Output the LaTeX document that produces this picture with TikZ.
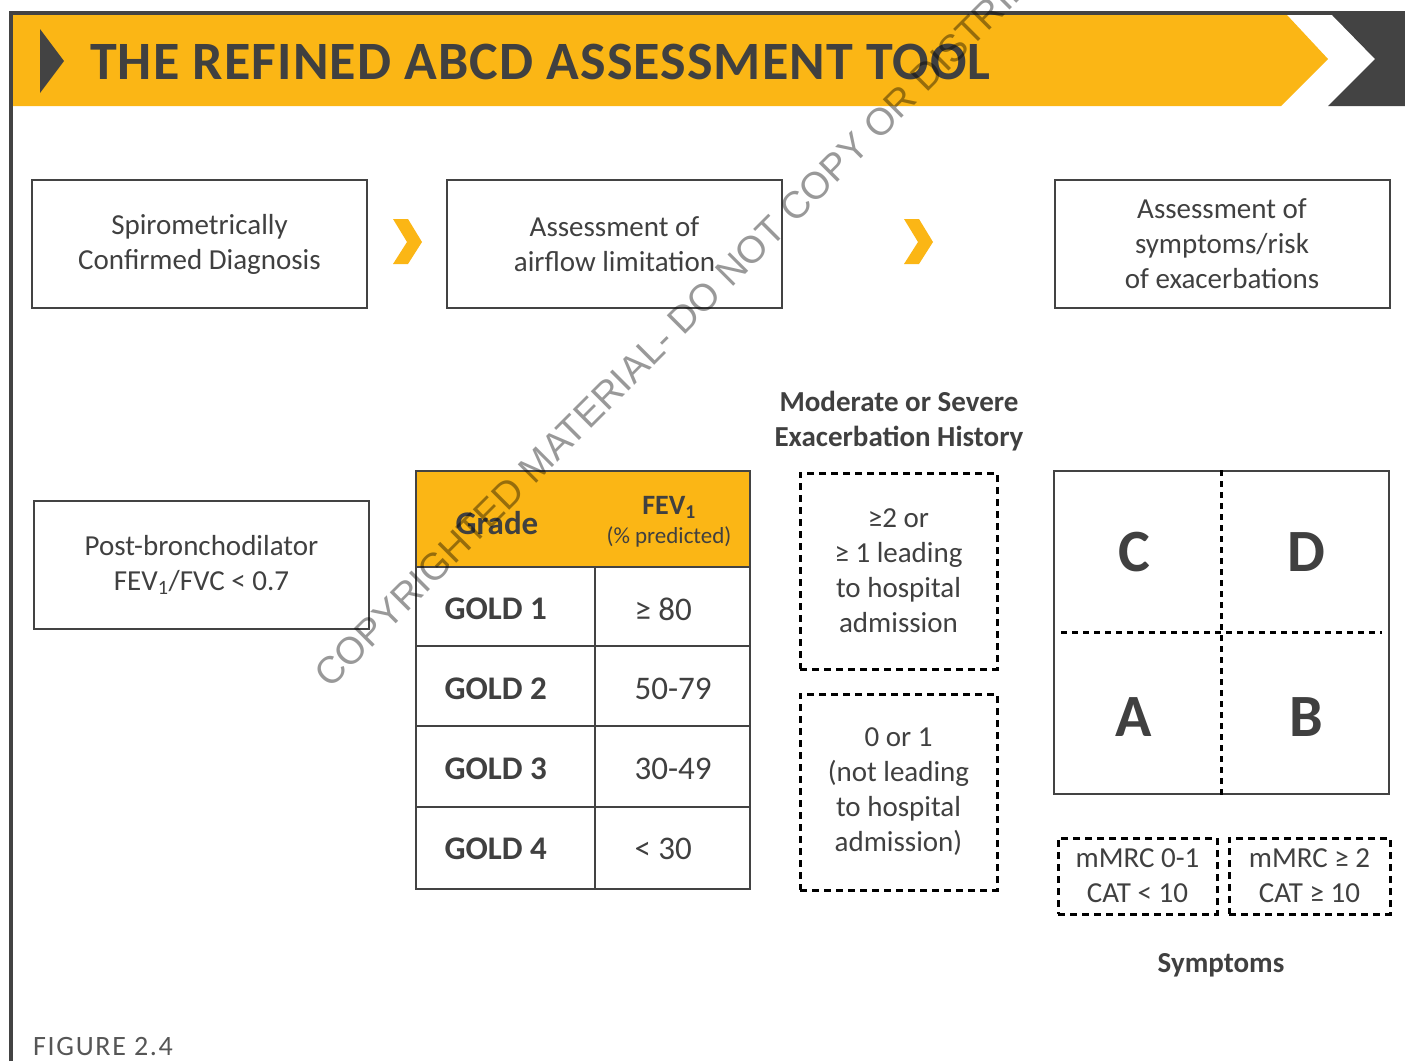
\documentclass[tikz,border=0pt]{standalone}
\usepackage{fontspec}
\setmainfont{Carlito}
\newfontfamily\spacedfont[LetterSpace=6]{Carlito}
\newfontfamily\titlefont[LetterSpace=2]{Carlito}
\newfontfamily\wmfont{Liberation Sans}
\definecolor{gold}{HTML}{FBB615}
\definecolor{framegray}{HTML}{434343}
\definecolor{textgray}{HTML}{404040}

\tikzset{
  box/.style={draw=framegray, line width=2pt, minimum width=335pt, minimum height=128pt,
    align=center, text=textgray, font=\fontsize{29}{35}\selectfont},
  dotbox/.style={draw=black, line width=3pt, dash pattern=on 7pt off 5pt,
    align=center, text=textgray, font=\fontsize{29}{35}\selectfont},
  dotline/.style={black, line width=3pt, dash pattern=on 6pt off 5pt},
  heading/.style={align=center, text=textgray, font=\fontsize{29}{35}\selectfont\bfseries},
  gradetxt/.style={anchor=west, text=textgray, font=\fontsize{33}{35}\selectfont\bfseries},
  valtxt/.style={anchor=west, text=textgray, font=\fontsize{33}{35}\selectfont},
  letter/.style={text=textgray, font=\fontsize{60}{60}\selectfont\bfseries},
  chevron/.pic={\fill[gold] (0,0) -- (15,0) -- (29,23) -- (15,45) -- (0,45) -- (14,23) -- cycle;}
}

\begin{document}
\begin{tikzpicture}[x=1pt, y=-1pt]
  \useasboundingbox (0,0) rectangle (1405,1061);

  % title band
  \fill[gold] (12,15) -- (1287,15) -- (1328,59) -- (1281,106) -- (12,106) -- cycle;
  \fill[framegray] (1332,15) -- (1405,15) -- (1405,106) -- (1328,106) -- (1375,59) -- cycle;
  \draw[framegray, line width=4pt] (10.5,1061) -- (10.5,13) -- (1405,13);
  \fill[framegray] (40,29) -- (64,61) -- (40,93) -- cycle;
  \node[anchor=base west, text=textgray, inner sep=0pt,
    font=\titlefont\fontsize{54}{54}\selectfont\bfseries] (title) at (90,79)
    {THE REFINED ABCD ASSESSMENT TOOL};

  % top row
  \node[box] (spiro) at (199.5,244) {Spirometrically\\Confirmed Diagnosis};
  \node[box] (airflow) at (614.5,244) {Assessment of\\airflow limitation};
  \node[box] (symrisk) at (1222,244) {Assessment of\\symptoms/risk\\of exacerbations};
  \pic at (393,219) {chevron};
  \pic at (904,219) {chevron};

  \node[box] (postbd) at (201.5,565) {Post-bronchodilator\\FEV\textsubscript{1}/FVC < 0.7};

  % grade table
  \fill[gold] (416,471) rectangle (750,567);
  \draw[framegray, line width=2pt] (416,471) rectangle (750,889);
  \foreach \y in {567,646,726,807} \draw[framegray, line width=2pt] (416,\y) -- (750,\y);
  \draw[framegray, line width=2pt] (595,567) -- (595,889);
  \node[text=textgray, font=\fontsize{33}{35}\selectfont\bfseries] (grade) at (497,523) {Grade};
  \node[text=textgray, align=center, inner sep=0pt] (fevhead) at (669,522)
    {{\fontsize{28}{30}\selectfont\bfseries FEV\textsubscript{1}}\\[7pt]{\fontsize{23}{28}\selectfont (\% predicted)}};
  \foreach \val/\y [count=\i] in {{≥ 80}/609, {50-79}/689, {30-49}/769, {< 30}/849}{
    \node[gradetxt] (gold\i) at (441,\y) {GOLD \i};
    \node[valtxt] (fev\i) at (631,\y) {\val};
  }

  % exacerbation history
  \node[heading] (exachead) at (899,421) {Moderate or Severe\\Exacerbation History};
  \node[dotbox, minimum width=197pt, minimum height=196pt] (hiexac) at (898.5,571)
    {≥2 or\\≥ 1 leading\\to hospital\\admission};
  \node[dotbox, minimum width=197pt, minimum height=196pt] (loexac) at (898.5,792)
    {0 or 1\\(not leading\\to hospital\\admission)};

  % ABCD grid
  \node[draw=framegray, line width=2pt, minimum width=335pt, minimum height=323pt] (grid) at (1221.5,632.5) {};
  \draw[dotline] (grid.north) -- (grid.south);
  \draw[dotline] ([xshift=8pt]grid.west) -- ([xshift=-8pt]grid.east);
  \node[letter] (qC) at (1134,552) {C};
  \node[letter] (qD) at (1306,552) {D};
  \node[letter] (qA) at (1134,717) {A};
  \node[letter] (qB) at (1306,717) {B};

  \node[dotbox, minimum width=159pt, minimum height=76pt] (losym) at (1137.5,876) {mMRC 0-1\\CAT < 10};
  \node[dotbox, minimum width=161pt, minimum height=76pt] (hisym) at (1309.5,876) {mMRC ≥ 2\\CAT ≥ 10};
  \node[heading] (symlabel) at (1221,965) {Symptoms};

  \node[anchor=base west, inner sep=0pt, text=framegray!90,
    font=\spacedfont\fontsize{28}{30}\selectfont] (figlabel) at (33,1055) {FIGURE 2.4};

  % watermark
  \begin{scope}
    \clip (0,0) rectangle (1405,1061);
    \node[anchor=base west, rotate=45, inner sep=0pt, text=black, text opacity=0.4,
      font=\wmfont\fontsize{38}{38}\selectfont] (stamp) at (330,690)
      {COPYRIGHTED MATERIAL- DO NOT COPY OR DISTRIBUTE};
  \end{scope}
\end{tikzpicture}
\end{document}
